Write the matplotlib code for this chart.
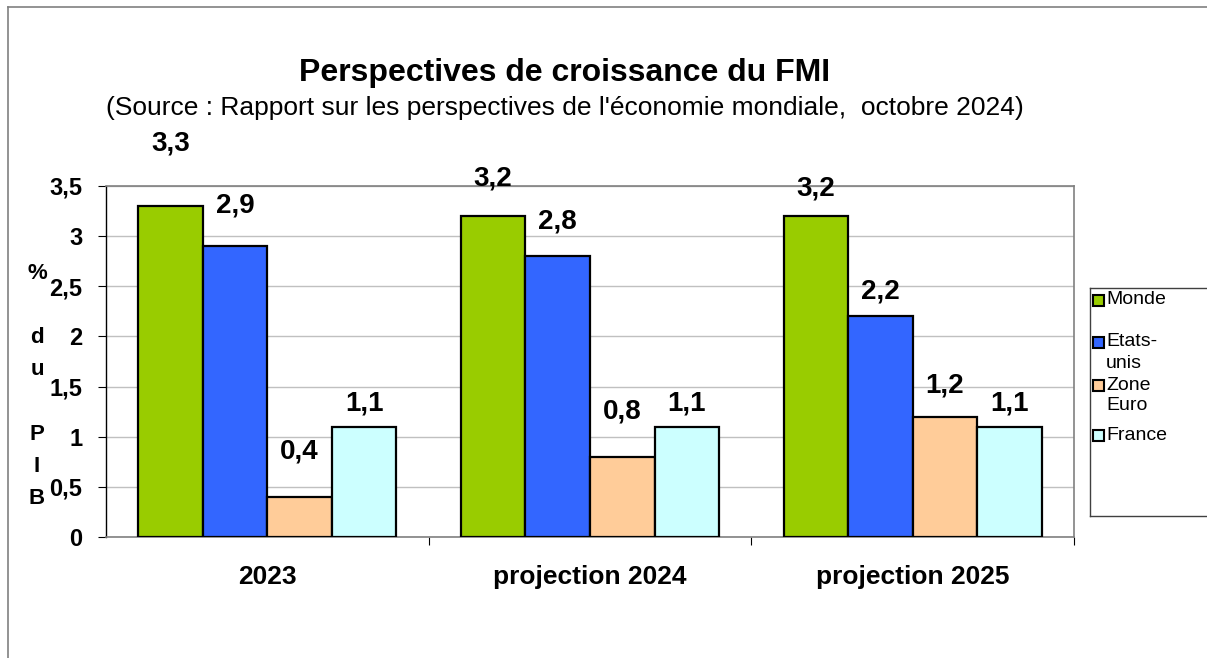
import numpy as np
import matplotlib.pyplot as plt
from matplotlib.lines import Line2D
from matplotlib.patches import Rectangle

plt.rcParams['font.family'] = ['Liberation Sans', 'DejaVu Sans']

# données
categories = ['2023', 'projection 2024', 'projection 2025']
series = ['Monde', 'Etats-\nunis', 'Zone\nEuro', 'France']
monde = [3.3, 3.2, 3.2]
etats_unis = [2.9, 2.8, 2.2]
zone_euro = [0.4, 0.8, 1.2]
france = [1.1, 1.1, 1.1]
valeurs = [monde, etats_unis, zone_euro, france]

couleurs = ['#99CC00', '#3366FF', '#FFCC99', '#CCFFFF']
# décalage des étiquettes au-dessus des barres (pixels), par série puis catégorie
decalages = [[63, 38, 28], [41, 35, 25], [45, 45, 31], [23, 23, 23]]

W, H = 1207, 658
fig = plt.figure(figsize=(W / 100, H / 100), dpi=100)
ax = fig.add_axes([106 / W, 1 - 537 / H, (1074 - 106) / W, (537 - 186) / H])

x = np.arange(len(categories))
larg = 0.2
for j, (nom, vals) in enumerate(zip(series, valeurs)):
    pos = x + (j - 1.5) * larg
    ax.bar(pos, vals, larg, color=couleurs[j], edgecolor='black', linewidth=1.6, zorder=3)
    for i, v in enumerate(vals):
        ax.annotate(f'{v:.1f}'.replace('.', ','), (pos[i], v),
                    xytext=(0, decalages[j][i] * 0.72), textcoords='offset points',
                    ha='center', va='center', fontsize=20, fontweight='bold',
                    annotation_clip=False)

ax.set_xlim(-0.5, 2.5)
ax.set_ylim(0, 3.5)
yt = np.arange(0, 3.51, 0.5)
ax.set_yticks(yt)
ax.set_yticklabels([f'{t:g}'.replace('.', ',') for t in yt], fontsize=17, fontweight='bold')
ax.set_xticks(x)
ax.set_xticklabels(categories, fontsize=19, fontweight='bold')
ax.set_xticks([0.5, 1.5, 2.5], minor=True)
ax.tick_params(axis='x', which='major', length=0, pad=20)
ax.tick_params(axis='x', which='minor', direction='out', length=6, color='black', width=0.8)
ax.tick_params(axis='y', direction='out', length=6, width=0.8, pad=11)

ax.grid(axis='y', color='#c0c0c0', linewidth=1, zorder=0)
ax.spines['left'].set_color('black')
ax.spines['left'].set_linewidth(1)
ax.spines['bottom'].set_color('#808080')
ax.spines['top'].set_color('#808080')
ax.spines['right'].set_color('#808080')
for s in ['bottom', 'top', 'right']:
    ax.spines[s].set_linewidth(1.2)

# titre
fig.text(565 / W, 1 - 73 / H, 'Perspectives de croissance du FMI', ha='center', va='center',
         fontsize=23, fontweight='bold')
fig.text(565 / W, 1 - 108 / H,
         "(Source : Rapport sur les perspectives de l'économie mondiale,  octobre 2024)",
         ha='center', va='center', fontsize=19)

# titre de l'axe vertical, lettres empilées
fig.text(37 / W, 1 - 386 / H, '%\n\nd\nu\n\nP\nI\nB', ha='center', va='center',
         fontsize=16, fontweight='bold', linespacing=1.70)

# cadre extérieur
fig.add_artist(Line2D([8 / W, 1], [1 - 7 / H, 1 - 7 / H], color='#808080', lw=1.2))
fig.add_artist(Line2D([8 / W, 8 / W], [0, 1 - 7 / H], color='#808080', lw=1.2))

# légende
lx0, ly0, ly1 = 1090, 288, 516
fig.add_artist(Line2D([lx0 / W, 1], [1 - ly0 / H] * 2, color='#404040', lw=1))
fig.add_artist(Line2D([lx0 / W, 1], [1 - ly1 / H] * 2, color='#404040', lw=1))
fig.add_artist(Line2D([lx0 / W] * 2, [1 - ly0 / H, 1 - ly1 / H], color='#404040', lw=1))
ypos = [300, 342, 385, 435]
for j, nom in enumerate(series):
    y = ypos[j]
    fig.add_artist(Rectangle(((1098 - 5.5) / W, 1 - (y + 5.5) / H), 11 / W, 11 / H,
                             facecolor=couleurs[j], edgecolor='black', lw=1.5,
                             transform=fig.transFigure))
    for k, ligne in enumerate(nom.split('\n')):
        fig.text(1106 / W, 1 - (y + k * 21) / H, ligne, ha='left', va='center', fontsize=14)

fig.savefig('out.png', dpi=100)
